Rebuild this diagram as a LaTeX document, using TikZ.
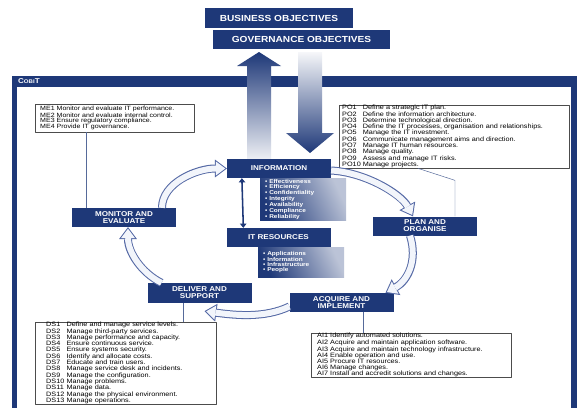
\documentclass[tikz,border=0pt]{standalone}
\usepackage{fontspec}
\setmainfont{Liberation Sans}[FakeStretch=1.15]
\usetikzlibrary{arrows.meta}

\definecolor{cobitblue}{RGB}{30,56,120}
\definecolor{cycline}{RGB}{85,105,165}
\definecolor{cycfill}{RGB}{242,245,251}

\tikzset{
  titlebox/.style = {fill = cobitblue, text = white, inner sep = 0pt,
    font = \bfseries\fontsize{12.5}{12.5}\selectfont},
  cycbox/.style = {fill = cobitblue, text = white, inner sep = 0pt,
    align = center, minimum width = 5.2cm, minimum height = .95cm,
    font = \bfseries\fontsize{10}{10}\selectfont},
  listbox/.style = {draw = black!70, fill = white, line width = .6pt,
    anchor = north west, align = left, inner ysep = 0pt,
    font = \fontsize{9}{8.1}\selectfont},
  panel/.style = {anchor = north west, text = white, align = left,
    inner ysep = 0pt, inner xsep = .25cm, left color = cobitblue,
    right color = cobitblue!30, shading angle = 115,
    font = \bfseries\fontsize{8}{7.3}\selectfont},
  conn/.style = {draw = cobitblue!75, line width = .7pt},
  cycout/.style = {draw = cycline, line width = 11.4pt,
    -{Triangle[width = 25.6pt, length = 17pt, line width = 0pt]}},
  cycin/.style = {draw = cycfill, line width = 8.5pt, shorten > = 2.4pt,
    -{Triangle[width = 19.9pt, length = 13.2pt, line width = 0pt]}}
}

\begin{document}
\begin{tikzpicture}[x = .05cm, y = -.05cm, line join = round]
  \useasboundingbox (0, 0) rectangle (581, 408);

  % CobiT frame
  \fill[cobitblue] (12, 76) rectangle (577, 408);
  \fill[white] (17, 87) rectangle (571, 408);
  \node[anchor = west, text = white, inner sep = 0pt,
  font = \bfseries\fontsize{10}{10}\selectfont] (cobit) at (18, 81.5)
  {C{\fontsize{7.5}{7.5}\selectfont OBI}T};

  % objectives
  \node[titlebox, minimum width = 7.4cm, minimum height = 1cm] (bus)
  at (279, 18) {BUSINESS OBJECTIVES};
  \node[titlebox, minimum width = 8.85cm, minimum height = .95cm] (gov)
  at (301.5, 39) {GOVERNANCE OBJECTIVES};

  \shade[top color = cobitblue, bottom color = cobitblue!8] (247, 159) --
  (247, 66) -- (237, 66) -- (259, 52) -- (281, 66) -- (271, 66) --
  (271, 159) -- cycle;
  \shade[top color = cobitblue!4, bottom color = cobitblue] (298, 52) --
  (322, 52) -- (322, 133) -- (334, 133) -- (310, 153) -- (286, 133) --
  (298, 133) -- cycle;

  % process lists
  \node[listbox, inner xsep = .25cm, text width = 7.45cm,
  minimum height = 1.4cm, font = \fontsize{8.7}{7.2}\selectfont] (me)
  at (35, 104) {ME1 Monitor and evaluate IT performance.\\
    ME2 Monitor and evaluate internal control.\\
    ME3 Ensure regulatory compliance.\\
    ME4 Provide IT governance.};

  \node[listbox, inner xsep = .15cm, text width = 11.2cm,
  minimum height = 3.1cm] (po) at (339, 105) {\noindent
    \begin{tabular}{@{}l@{\hspace{3pt}}l@{}}
      PO1 & Define a strategic IT plan.\\
      PO2 & Define the information architecture.\\
      PO3 & Determine technological direction.\\
      PO4 & Define the IT processes, organisation and relationships.\\
      PO5 & Manage the IT investment.\\
      PO6 & Communicate management aims and direction.\\
      PO7 & Manage IT human resources.\\
      PO8 & Manage quality.\\
      PO9 & Assess and manage IT risks.\\
      PO10 & Manage projects.
    \end{tabular}};

  \node[listbox, inner xsep = .55cm, text width = 7.95cm,
  minimum height = 4.05cm] (ds) at (35, 322) {\noindent
    \begin{tabular}{@{}l@{\hspace{3pt}}l@{}}
      DS1 & Define and manage service levels.\\
      DS2 & Manage third-party services.\\
      DS3 & Manage performance and capacity.\\
      DS4 & Ensure continuous service.\\
      DS5 & Ensure systems security.\\
      DS6 & Identify and allocate costs.\\
      DS7 & Educate and train users.\\
      DS8 & Manage service desk and incidents.\\
      DS9 & Manage the configuration.\\
      DS10 & Manage problems.\\
      DS11 & Manage data.\\
      DS12 & Manage the physical environment.\\
      DS13 & Manage operations.
    \end{tabular}};

  \node[listbox, inner xsep = .3cm, text width = 9.4cm,
  minimum height = 2.2cm] (ai) at (311, 333) {AI1 Identify automated
    solutions.\\
    AI2 Acquire and maintain application software.\\
    AI3 Acquire and maintain technology infrastructure.\\
    AI4 Enable operation and use.\\
    AI5 Procure IT resources.\\
    AI6 Manage changes.\\
    AI7 Install and accredit solutions and changes.};

  % panels
  \node[panel, text width = 3.8cm, minimum height = 2.1cm] (infolist)
  at (260, 178) {\textbullet\ Effectiveness\\ \textbullet\ Efficiency\\
    \textbullet\ Confidentiality\\ \textbullet\ Integrity\\
    \textbullet\ Availability\\ \textbullet\ Compliance\\
    \textbullet\ Reliability};
  \node[panel, text width = 3.8cm, minimum height = 1.5cm] (reslist)
  at (258, 247) {\textbullet\ Applications\\ \textbullet\ Information\\
    \textbullet\ Infrastructure\\ \textbullet\ People};

  % domains
  \node[cycbox] (info) at (279, 168.5) {INFORMATION};
  \node[cycbox] (itres) at (278.5, 237.5) {IT RESOURCES};
  \node[cycbox] (plan) at (425, 226) {PLAN AND\\ORGANISE};
  \node[cycbox] (acq) at (341.5, 302.5) {ACQUIRE AND\\IMPLEMENT};
  \node[cycbox, minimum height = 1cm] (deliv) at (199.5, 293)
  {DELIVER AND\\SUPPORT};
  \node[cycbox] (mon) at (124, 217.5) {MONITOR AND\\EVALUATE};

  \draw[cobitblue, line width = 2.2pt,
  {Triangle[width = 9pt, length = 6pt]}-{Triangle[width = 9pt, length = 6pt]}]
  ([xshift = .75cm] info.south west) -- ([xshift = .85cm] itres.north west);

  % connectors to the lists
  \draw[conn] ([xshift = 2.55cm] me.south west) coordinate (mea) --
  (mea |- mon.north);
  \draw[conn] ([xshift = 3.95cm] po.south west) -- ++(37, 12)
  coordinate (poa) -- (poa |- plan.north);
  \draw[conn] ([xshift = -.8cm] deliv.south) coordinate (dsa) --
  (dsa |- ds.north);
  \draw[conn] ([xshift = 1.1cm] acq.south) coordinate (aia) --
  (aia |- ai.north);

  % the cycle
  \draw[cycout] ([xshift = 1.9cm] mon.north) .. controls +(0, -25) and
  +(-30, 0) .. (info.west);
  \draw[cycin] ([xshift = 1.9cm] mon.north) .. controls +(0, -25) and
  +(-30, 0) .. (info.west);

  \draw[cycout] ([yshift = -.1cm] info.east) .. controls +(35, 2) and
  +(-12, -22) .. ([xshift = -.6cm] plan.north);
  \draw[cycin] ([yshift = -.1cm] info.east) .. controls +(35, 2) and
  +(-12, -22) .. ([xshift = -.6cm] plan.north);

  \draw[cycout] ([xshift = -.75cm] plan.south) .. controls +(8, 25) and
  +(22, -12) .. ([xshift = 2.2cm] acq.north);
  \draw[cycin] ([xshift = -.75cm] plan.south) .. controls +(8, 25) and
  +(22, -12) .. ([xshift = 2.2cm] acq.north);

  \draw[cycout] ([yshift = -.2cm] acq.west) .. controls +(-25, 12) and
  +(30, 4) .. ([shift = {(.25cm, -.4cm)}] deliv.south);
  \draw[cycin] ([yshift = -.2cm] acq.west) .. controls +(-25, 12) and
  +(30, 4) .. ([shift = {(.25cm, -.4cm)}] deliv.south);

  \draw[cycout] ([xshift = -1.9cm] deliv.north) .. controls +(-20, -10) and
  +(0, 25) .. ([xshift = .2cm] mon.south);
  \draw[cycin] ([xshift = -1.9cm] deliv.north) .. controls +(-20, -10) and
  +(0, 25) .. ([xshift = .2cm] mon.south);
\end{tikzpicture}
\end{document}
